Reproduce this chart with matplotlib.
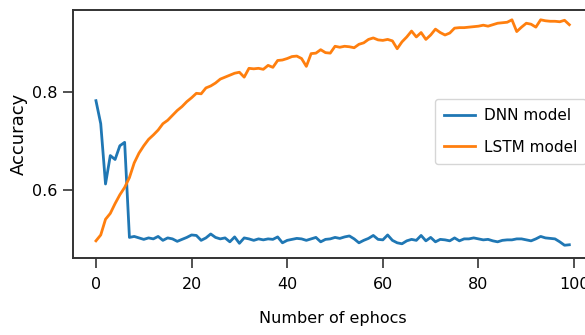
import matplotlib
matplotlib.use("Agg")
import matplotlib.pyplot as plt
import numpy as np

epochs = list(range(100))

dnn_acc = [0.782, 0.735, 0.612, 0.670, 0.662, 0.690, 0.697, 0.503, 0.505, 0.502,
           0.499, 0.502, 0.500, 0.505, 0.497, 0.502, 0.500, 0.495, 0.499, 0.503,
           0.508, 0.507, 0.497, 0.502, 0.510, 0.503, 0.500, 0.502, 0.494, 0.504,
           0.491, 0.502, 0.500, 0.497, 0.500, 0.498, 0.500, 0.499, 0.504, 0.492,
           0.497, 0.499, 0.501, 0.500, 0.497, 0.500, 0.503, 0.494, 0.499, 0.500,
           0.503, 0.501, 0.504, 0.506, 0.500, 0.492, 0.497, 0.501, 0.507, 0.499,
           0.498, 0.508, 0.497, 0.492, 0.490, 0.496, 0.499, 0.497, 0.507, 0.496,
           0.503, 0.494, 0.499, 0.498, 0.496, 0.502, 0.496, 0.500, 0.500, 0.502,
           0.500, 0.498, 0.499, 0.496, 0.494, 0.497, 0.498, 0.498, 0.500, 0.500,
           0.498, 0.496, 0.500, 0.505, 0.502, 0.501, 0.500, 0.494, 0.487, 0.488]

lstm_acc = [0.496, 0.508, 0.540, 0.552, 0.572, 0.590, 0.605, 0.625, 0.655, 0.675,
            0.690, 0.703, 0.712, 0.722, 0.735, 0.742, 0.752, 0.762, 0.770, 0.780,
            0.788, 0.797, 0.796, 0.808, 0.812, 0.818, 0.826, 0.830, 0.834, 0.838,
            0.840, 0.830, 0.848, 0.847, 0.848, 0.846, 0.854, 0.850, 0.864, 0.865,
            0.868, 0.872, 0.873, 0.868, 0.852, 0.878, 0.879, 0.886, 0.880, 0.879,
            0.893, 0.891, 0.893, 0.892, 0.890, 0.897, 0.900, 0.907, 0.910, 0.906,
            0.905, 0.907, 0.904, 0.888, 0.902, 0.912, 0.924, 0.912, 0.921, 0.907,
            0.916, 0.928, 0.921, 0.916, 0.920, 0.930, 0.931, 0.931, 0.932, 0.933,
            0.934, 0.936, 0.934, 0.937, 0.940, 0.941, 0.942, 0.947, 0.923, 0.932,
            0.940, 0.938, 0.932, 0.947, 0.945, 0.944, 0.944, 0.943, 0.946, 0.937]

series_labels = ["DNN model", "LSTM model"]
x_ticks = [0, 20, 40, 60, 80, 100]
y_ticks = [0.6, 0.8]

fs = 11.5

fig = plt.figure(figsize=(5.85, 3.35), dpi=100)
ax = fig.add_axes([73 / 585, 1 - 258 / 335, 520 / 585, 248 / 335])

ax.plot(epochs, dnn_acc, color="#1f77b4", lw=2.0, label=series_labels[0])
ax.plot(epochs, lstm_acc, color="#ff7f0e", lw=2.0, label=series_labels[1])

ax.set_xlim(-4.8, 103.95)
ax.set_ylim(0.461, 0.967)
ax.set_xticks(x_ticks)
ax.set_yticks(y_ticks)
ax.set_xticklabels([str(t) for t in x_ticks], fontsize=fs)
ax.set_yticklabels([f"{t:.1f}" for t in y_ticks], fontsize=fs)
ax.tick_params(axis="x", length=7, width=1.2, color="#333333", pad=7)
ax.tick_params(axis="y", length=7, width=1.2, color="#333333", pad=4)

for s in ax.spines.values():
    s.set_color("#333333")
    s.set_linewidth(1.4)

ax.set_xlabel("Number of ephocs", fontsize=fs, labelpad=13)
ax.set_ylabel("Accuracy", fontsize=13, labelpad=3)

leg = ax.legend(loc="center left", bbox_to_anchor=((435 - 73) / 520, (258 - 131.5) / 248),
                borderaxespad=0, prop={"size": 11},
                handlelength=2.0, handletextpad=0.6, borderpad=0.6, labelspacing=1.05)
leg.get_frame().set_edgecolor("#cccccc")

fig.savefig("out.png", dpi=100)
